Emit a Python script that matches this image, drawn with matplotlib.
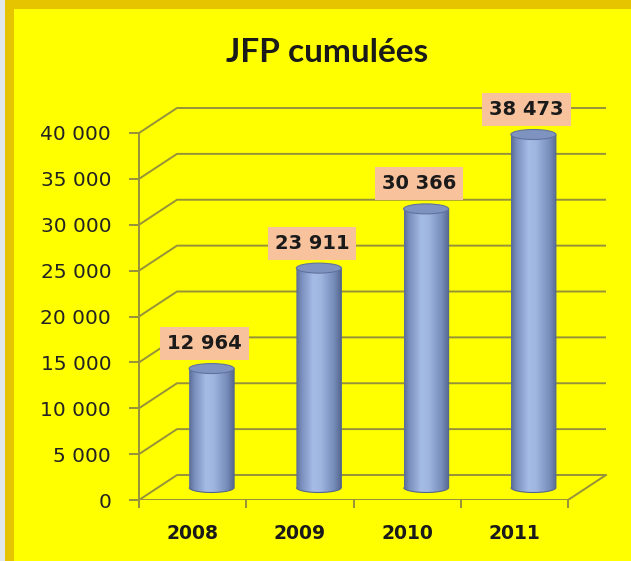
import numpy as np
import matplotlib
matplotlib.use("Agg")
import matplotlib.pyplot as plt
from matplotlib.colors import LinearSegmentedColormap
from matplotlib.patches import Ellipse, PathPatch, Rectangle
from matplotlib.path import Path

# data
years = ["2008", "2009", "2010", "2011"]
jfp = [12964, 23911, 30366, 38473]
yticks = [0, 5000, 10000, 15000, 20000, 25000, 30000, 35000, 40000]

YELLOW = "#FFFF00"
GOLD = "#E6C400"
GRID = "#96923A"
LABEL_BG = "#F7C29C"


def fr(v):
    return f"{v:,}".replace(",", " ")


def main():
    fig = plt.figure(figsize=(6.31, 5.61), dpi=100, facecolor=YELLOW)

    # frame decoration around the slide
    fig.patches.append(Rectangle((0, 0), 5 / 631, 1, transform=fig.transFigure,
                                 facecolor="#E2E8EA", edgecolor="none"))
    fig.patches.append(Rectangle((5 / 631, 0), 9 / 631, 1, transform=fig.transFigure,
                                 facecolor=GOLD, edgecolor="none"))
    fig.patches.append(Rectangle((5 / 631, 1 - 9 / 561), 1, 9 / 561, transform=fig.transFigure,
                                 facecolor=GOLD, edgecolor="none"))

    fig.text(327 / 631, 1 - 53 / 561, "JFP cumulées", ha="center", va="center",
             fontsize=24, fontweight="bold", family=["Lato", "DejaVu Sans"], color="#1a1a1a")

    ax = fig.add_axes([139 / 631, 61 / 561, 471 / 631, 410 / 561])
    ax.set_facecolor("none")
    px_x = 1 / 107.25           # category units per pixel
    px_y = 40000 / 367          # value units per pixel

    dx, dy = 38 * px_x, 25 * px_y   # depth offset of the 3D box
    n = len(years)
    left, right = -0.5, n - 0.5

    # back wall + side wall gridlines
    for v in yticks:
        ax.plot([left, left + dx, right + dx], [v, v + dy, v + dy],
                color=GRID, lw=1.4, zorder=1, solid_capstyle="butt")
    # floor
    ax.plot([left, right, right + dx], [0, 0, dy], color=GRID, lw=1.4, zorder=1)

    # cylinders
    cmap = LinearSegmentedColormap.from_list("cyl", [
        (0.0, "#5A6C96"), (0.12, "#7A8FBD"), (0.38, "#A5BCE5"),
        (0.55, "#9FB6E0"), (0.85, "#768CBA"), (1.0, "#566890")])
    grad = np.linspace(0, 1, 128).reshape(1, -1)
    w = 45 * px_x
    eh = 10 * px_y
    t = np.linspace(np.pi, 2 * np.pi, 40)
    for i, v in enumerate(jfp):
        cx = i + dx / 2
        base = dy / 2
        top = v + dy / 2
        xs = list(cx + w / 2 * np.cos(t)) + [cx + w / 2, cx - w / 2]
        ys = list(base + eh / 2 * np.sin(t)) + [top, top]
        body = Path(np.column_stack([xs, ys]), closed=False)
        im = ax.imshow(grad, cmap=cmap, aspect="auto", interpolation="bilinear",
                       extent=[cx - w / 2, cx + w / 2, base - eh / 2, top], zorder=3)
        outline = PathPatch(body, facecolor="none", edgecolor="#55678C", lw=0.8, zorder=4)
        ax.add_patch(outline)
        im.set_clip_path(outline)
        ax.add_patch(Ellipse((cx, top), w, eh, facecolor="#7E93BF",
                             edgecolor="#60739C", lw=0.8, zorder=5))

        ax.text(cx - 7 * px_x, top + 25 * px_y, fr(v), ha="center", va="center",
                fontsize=14, fontweight="bold", color="#1a1a1a", zorder=6,
                bbox=dict(boxstyle="square,pad=0.36", facecolor=LABEL_BG, edgecolor="none"))

    ax.set_xlim(-0.5, -0.5 + 471 * px_x)
    ax.set_ylim(0, 410 * px_y)

    # axes: front y axis spine + category ticks
    for s in ["top", "right", "bottom"]:
        ax.spines[s].set_visible(False)
    ax.spines["left"].set_bounds(0, 40000)
    ax.spines["left"].set_color(GRID)
    ax.spines["left"].set_linewidth(1.4)
    ax.set_yticks(yticks)
    ax.set_yticklabels([fr(v) for v in yticks])
    ax.tick_params(axis="y", length=7, width=1.4, color=GRID, pad=13,
                   labelsize=14.5, labelcolor="#222222")
    ax.set_xticks(range(n))
    ax.set_xticklabels(years, fontweight="bold")
    ax.set_xticks(np.arange(n + 1) - 0.5, minor=True)
    ax.tick_params(axis="x", which="major", length=0, pad=17, labelsize=13.5,
                   labelcolor="#1a1a1a")
    ax.tick_params(axis="x", which="minor", length=6, width=1.4, color=GRID)

    fig.savefig("out.png", dpi=100, facecolor=YELLOW)


main()
